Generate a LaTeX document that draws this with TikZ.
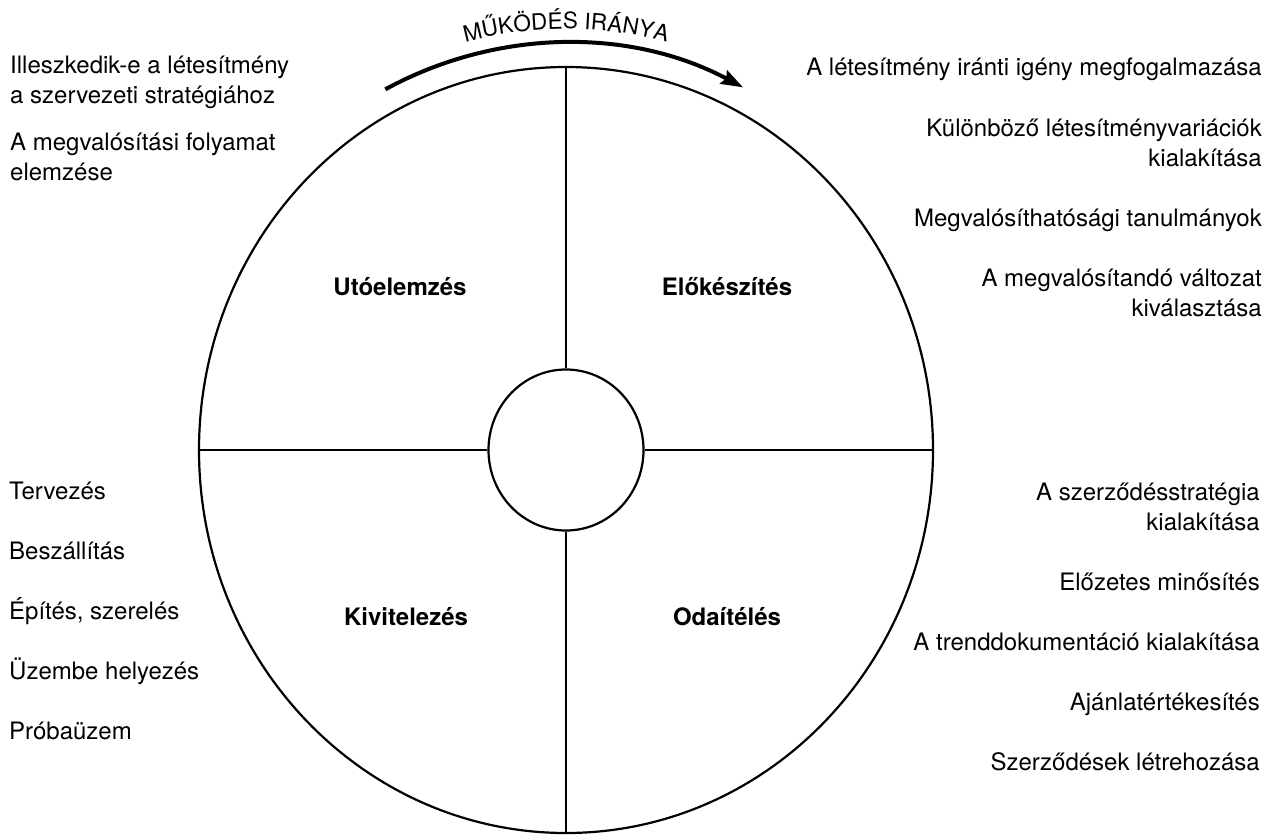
\documentclass[tikz,border=0pt]{standalone}
\usepackage{fontspec}
\setmainfont{TeX Gyre Heros}
\usetikzlibrary{shapes.geometric,arrows.meta,decorations.text,calc}
\tikzset{
  txt/.style={font=\fontsize{24}{30}\selectfont, inner sep=0pt},
  ltxt/.style={txt, anchor=base west},
  rtxt/.style={txt, anchor=base east},
  lbl/.style={font=\bfseries\fontsize{24}{29}\selectfont, inner sep=0pt, anchor=base},
  ring/.style={draw, ellipse, inner sep=0pt, line width=2.2pt},
  divider/.style={line width=2pt},
  dirarrow/.style={line width=4pt, -{Stealth[length=22pt, width=15pt, inset=3pt]}}
}
\begin{document}
\begin{tikzpicture}[x=1pt, y=1pt]
\useasboundingbox[fill=white] (0,0) rectangle (1278,-836);
\coordinate (c) at (566,-450);
% rings
\node[ring, minimum width=734pt, minimum height=766pt] (outer) at (c) {};
\node[ring, minimum width=155pt, minimum height=161pt] (inner) at (c) {};
% dividers
\draw[divider] (outer.north) -- (inner.north);
\draw[divider] (outer.south) -- (inner.south);
\draw[divider] (outer.west) -- (inner.west);
\draw[divider] (outer.east) -- (inner.east);
% direction arrow
\coordinate (arrS) at ($(c)+(117.6:390 and 407)$);
\draw[dirarrow] (arrS) arc[start angle=117.6, end angle=63, x radius=390, y radius=407];
\coordinate (txtS) at ($(c)+(130:403 and 421)$);
\path[decorate, decoration={text along path, text align=center,
  text={|\fontsize{22.5}{22.5}\selectfont|MŰKÖDÉS IRÁNYA}}]
  (txtS) arc[start angle=130, end angle=50, x radius=403, y radius=421];
% phase labels
\node[lbl] (ut) at (400,-295) {Utóelemzés};
\node[lbl] (el) at (727,-295) {Előkészítés};
\node[lbl] (ki) at (406,-625) {Kivitelezés};
\node[lbl] (od) at (727,-625) {Odaítélés};
% left top
\node[ltxt] (lt1) at (10,-73) {\begin{tabular}[t]{@{}l@{}}Illeszkedik-e a létesítmény\\a szervezeti stratégiához\end{tabular}};
\node[ltxt] (lt2) at (10,-150) {\begin{tabular}[t]{@{}l@{}}A megvalósítási folyamat\\elemzése\end{tabular}};
% right top
\node[rtxt] (rt1) at (1262,-75) {A létesítmény iránti igény megfogalmazása};
\node[rtxt] (rt2) at (1262,-136) {\begin{tabular}[t]{@{}r@{}}Különböző létesítményvariációk\\kialakítása\end{tabular}};
\node[rtxt] (rt3) at (1262,-226) {Megvalósíthatósági tanulmányok};
\node[rtxt] (rt4) at (1262,-286) {\begin{tabular}[t]{@{}r@{}}A megvalósítandó változat\\kiválasztása\end{tabular}};
% left bottom
\node[ltxt] (lb1) at (9,-499) {Tervezés};
\node[ltxt] (lb2) at (9,-559) {Beszállítás};
\node[ltxt] (lb3) at (9,-619) {Építés, szerelés};
\node[ltxt] (lb4) at (9,-679) {Üzembe helyezés};
\node[ltxt] (lb5) at (9,-739) {Próbaüzem};
% right bottom
\node[rtxt] (rb1) at (1260,-500) {\begin{tabular}[t]{@{}r@{}}A szerződésstratégia\\kialakítása\end{tabular}};
\node[rtxt] (rb2) at (1260,-590) {Előzetes minősítés};
\node[rtxt] (rb3) at (1260,-650) {A trenddokumentáció kialakítása};
\node[rtxt] (rb4) at (1260,-710) {Ajánlatértékesítés};
\node[rtxt] (rb5) at (1260,-770) {Szerződések létrehozása};
\end{tikzpicture}
\end{document}
